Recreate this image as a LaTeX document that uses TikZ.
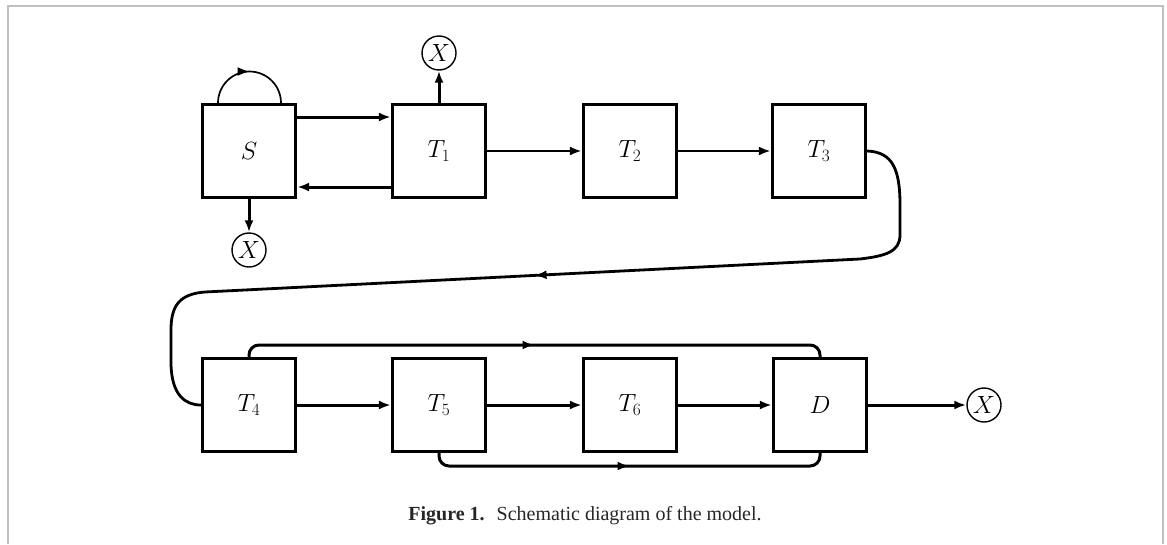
\documentclass[tikz,border=0pt]{standalone}
\usepackage{fontspec}
\setmainfont{Liberation Serif}
\usetikzlibrary{arrows.meta,decorations.markings}
\begin{document}
\begin{tikzpicture}[x=1pt,y=-1pt,
  box/.style={draw,line width=3.3pt,minimum size=93pt,inner sep=0pt,font=\fontsize{24}{28}\selectfont},
  xcirc/.style={draw,circle,line width=1.4pt,minimum size=34pt,inner sep=0pt,font=\fontsize{24}{28}\selectfont},
  tip/.style={-{Latex[length=12pt,width=9pt]}},
  thk/.style={line width=3pt},
  thn/.style={line width=2.4pt},
  midarrow/.style={postaction={decorate},decoration={markings,mark=at position #1 with {\arrow{Latex[length=12pt,width=9pt]}}}},
  frame/.style={draw=black!25,line width=1.6pt}
]
\useasboundingbox (0,0) rectangle (1167,544);
\draw[frame] (8,544) -- (8,6) -- (1163,6) -- (1163,544);

\node[box] (S)  at (249,151) {$S$};
\node[box] (T1) at (439,151) {$T_1$};
\node[box] (T2) at (630,151) {$T_2$};
\node[box] (T3) at (819,151) {$T_3$};
\node[box] (T4) at (249,405) {$T_4$};
\node[box] (T5) at (439,405) {$T_5$};
\node[box] (T6) at (630,405) {$T_6$};
\node[box] (D)  at (820,405) {$D$};

\node[xcirc] (X1) at (439,53) {$X$};
\node[xcirc] (X2) at (249,250) {$X$};
\node[xcirc] (X3) at (984,405) {$X$};

% S <-> T1
\draw[thk,tip] (S.east |- 0,117) -- (T1.west |- 0,117);
\draw[thk,tip] (T1.west |- 0,187) -- (S.east |- 0,187);
% self loop
\coordinate (la) at (218,103);
\draw[line width=1.7pt,midarrow=0.5] (la) arc[start angle=180,end angle=360,radius=31.5];
% to X
\draw[thk,tip] (T1.north) -- (X1.south);
\draw[thk,tip] (S.south) -- (X2.north);
\draw[thk,tip] (D.east) -- (X3.west);
% chain
\draw[thn,tip] (T1.east) -- (T2.west);
\draw[thn,tip] (T2.east) -- (T3.west);
\draw[thk,tip] (T4.east) -- (T5.west);
\draw[thk,tip] (T5.east) -- (T6.west);
\draw[thk,tip] (T6.east) -- (D.west);
% long curve T3 -> T4
\draw[line width=2.8pt,midarrow=0.5]
  (T3.east) .. controls (893,152) and (900,170) .. (900,205) -- (900,235)
  .. controls (900,252) and (885,256) .. (860,259) -- (205,292)
  .. controls (180,294) and (171,305) .. (171,330) -- (171,365)
  .. controls (172,395) and (185,405) .. (T4.west);
% bypasses
\draw[thk,rounded corners=10pt,midarrow=0.5] (T4.north) -- (249,345) -- (820,345) -- (D.north);
\draw[thk,rounded corners=10pt,midarrow=0.5] (T5.south) -- (439,466) -- (820,466) -- (D.south);

\node[font=\fontsize{20}{24}\selectfont,text=black!85] (cap) at (585,516) {\textbf{Figure 1.}\hspace{0.6em}Schematic diagram of the model.};
\end{tikzpicture}
\end{document}
